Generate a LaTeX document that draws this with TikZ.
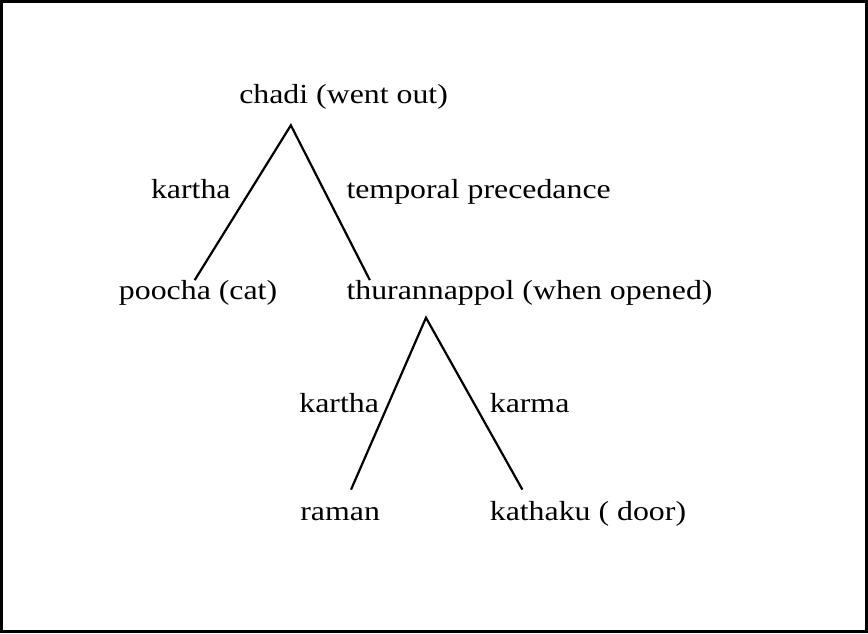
\documentclass[tikz,border=0pt]{standalone}
\usepackage{fontspec}
\setmainfont{Liberation Serif}[FakeStretch=1.155]
\usetikzlibrary{positioning,calc}

\begin{document}
\begin{tikzpicture}[
    x=1pt,y=-1pt,
    word/.style={inner sep=0pt,anchor=base west,font=\fontsize{27.5}{33}\selectfont},
    link/.style={line width=2.2pt}]
    \draw[line width=3pt] (3,3) rectangle (866,632);
    % words
    \node[word] (chadi) at (240,105) {chadi (went out)};
    \node[word] (poocha) at (120,300) {poocha (cat)};
    \node[word] (thuran) at (347,300) {thurannappol (when opened)};
    \node[word] (raman) at (301,520.5) {raman};
    \node[word] (kathaku) at (490,520.5) {kathaku ( door)};
    % relation labels
    \node[word] (kartha1) at (152,200) {kartha};
    \node[word] (temporal) at (347,200) {temporal precedance};
    \node[word] (kartha2) at (300,413.5) {kartha};
    \node[word] (karma) at (490,413.5) {karma};
    % tree
    \coordinate (top1) at (291.7,126.5);
    \coordinate (poochaTop) at (195.7,281);
    \coordinate (thuranTop) at (370.5,281);
    \coordinate (top2) at (426.5,318.5);
    \coordinate (ramanTop) at (351.7,490);
    \coordinate (kathakuTop) at (522.7,490);
    \draw[link] (poochaTop) -- (top1) -- (thuranTop);
    \draw[link] (ramanTop) -- (top2) -- (kathakuTop);
\end{tikzpicture}
\end{document}
